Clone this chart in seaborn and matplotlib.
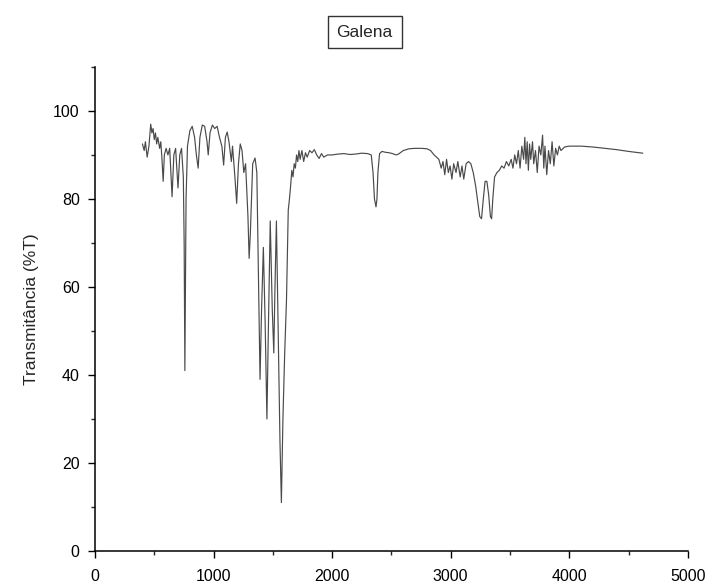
import numpy as np
import pandas as pd
import matplotlib
matplotlib.use("Agg")
import matplotlib.pyplot as plt
from matplotlib.ticker import MultipleLocator
import seaborn as sns

wavenumber = [
    400, 415, 425, 440, 455, 470, 480, 490, 500, 510, 520, 530, 545, 555, 565, 575, 585, 600,
    615, 630, 650, 665, 680, 700, 715, 730, 745, 752, 758, 762, 768, 780, 800, 820, 840, 855,
    870, 885, 905, 925, 945, 955, 970, 990, 1010, 1030, 1050, 1070, 1085, 1100, 1115, 1130,
    1150, 1160, 1180, 1195, 1210, 1225, 1240, 1255, 1270, 1290, 1300, 1310, 1330, 1350, 1365,
    1380, 1392, 1405, 1420, 1435, 1450, 1462, 1478, 1495, 1508, 1518, 1530, 1545, 1560, 1572,
    1585, 1600, 1615, 1630, 1640, 1650, 1660, 1670, 1680, 1690, 1700, 1710, 1720, 1730, 1745,
    1760, 1775, 1790, 1810, 1830, 1850, 1870, 1890, 1910, 1930, 1960, 2000, 2050, 2100, 2150,
    2200, 2250, 2300, 2330, 2345, 2357, 2370, 2378, 2386, 2400, 2420, 2450, 2480, 2510, 2540,
    2560, 2600, 2650, 2700, 2750, 2800, 2830, 2860, 2880, 2900, 2920, 2935, 2950, 2965, 2980,
    2995, 3010, 3025, 3045, 3060, 3080, 3095, 3110, 3130, 3150, 3170, 3190, 3210, 3230, 3245,
    3260, 3275, 3290, 3305, 3320, 3335, 3345, 3355, 3370, 3390, 3410, 3430, 3450, 3470, 3490,
    3510, 3525, 3540, 3555, 3570, 3585, 3600, 3615, 3625, 3635, 3645, 3655, 3665, 3675, 3690,
    3700, 3715, 3730, 3745, 3760, 3775, 3785, 3795, 3810, 3825, 3840, 3855, 3870, 3885, 3900,
    3915, 3930, 3960, 4000, 4100, 4200, 4300, 4400, 4500, 4620,
]
transmittance = [
    92.5, 91.0, 93.0, 89.5, 92.0, 97.0, 95.0, 96.0, 93.5, 95.0, 92.5, 94.0, 91.5, 93.0, 89.0,
    84.0, 90.0, 91.5, 90.0, 91.5, 80.5, 90.0, 91.5, 82.5, 90.0, 91.5, 85.0, 70.0, 41.0, 57.0,
    80.0, 92.0, 95.5, 96.5, 94.0, 90.0, 87.0, 94.0, 96.8, 96.5, 93.0, 90.0, 95.0, 96.8, 96.0,
    96.5, 94.0, 92.0, 87.7, 94.0, 95.2, 93.0, 88.5, 92.0, 85.0, 79.0, 88.0, 92.5, 91.0, 86.0,
    88.0, 76.0, 66.5, 72.0, 88.0, 89.3, 86.0, 60.0, 39.0, 55.0, 69.0, 52.0, 30.0, 50.0, 75.0,
    55.0, 45.0, 60.0, 75.0, 50.0, 25.0, 11.0, 30.0, 45.0, 57.0, 77.5, 80.0, 83.0, 86.5, 85.0,
    88.0, 87.0, 90.0, 88.5, 91.0, 89.0, 91.0, 88.5, 90.5, 89.5, 91.0, 90.5, 91.2, 90.0, 89.2,
    90.3, 89.5, 90.0, 90.0, 90.2, 90.3, 90.1, 90.2, 90.4, 90.3, 90.0, 86.0, 80.0, 78.2, 80.0,
    86.0, 90.3, 90.8, 90.6, 90.5, 90.3, 90.0, 90.2, 91.0, 91.4, 91.5, 91.5, 91.4, 91.0, 90.0,
    89.5, 89.0, 87.0, 88.5, 85.5, 89.0, 86.0, 87.5, 84.5, 88.0, 86.0, 88.5, 85.0, 87.5, 84.5,
    88.0, 88.5, 88.0, 86.0, 83.0, 79.0, 76.0, 75.5, 80.0, 84.0, 84.0, 81.0, 76.0, 75.5, 80.0,
    85.0, 86.0, 86.5, 87.5, 87.0, 88.5, 87.5, 89.0, 87.0, 90.0, 88.0, 91.0, 87.0, 92.0, 89.0,
    94.0, 88.0, 93.0, 86.5, 92.5, 89.0, 93.0, 88.0, 91.0, 86.0, 92.0, 90.0, 94.5, 87.0, 92.0,
    85.5, 91.0, 88.0, 93.0, 87.5, 91.5, 90.0, 92.0, 91.0, 91.8, 92.0, 92.0, 91.8, 91.5, 91.2,
    90.8, 90.4,
]

x_ticks = [0, 1000, 2000, 3000, 4000, 5000]
y_ticks = [0, 20, 40, 60, 80, 100]

df = pd.DataFrame({"wn": wavenumber, "T": transmittance})

sns.set_theme(style="ticks")
plt.rcParams["font.family"] = ["Liberation Sans", "DejaVu Sans"]

fig = plt.figure(figsize=(7.18, 5.87), dpi=100)
ax = fig.add_axes([0.1323, 0.0613, 0.8257, 0.8247])

sns.lineplot(data=df, x="wn", y="T", ax=ax, color="#4a4a4a", linewidth=0.85,
             estimator=None, sort=False)

ax.set_xlim(0, 5000)
ax.set_ylim(0, 110)
ax.set_xticks(x_ticks)
ax.set_yticks(y_ticks)
ax.xaxis.set_minor_locator(MultipleLocator(500))
ax.yaxis.set_minor_locator(MultipleLocator(10))
ax.tick_params(axis="both", which="major", direction="out", length=5, width=1.0,
               labelsize=11.5, colors="black")
ax.tick_params(axis="x", which="major", pad=8)
ax.tick_params(axis="y", which="major", pad=6)
ax.tick_params(axis="both", which="minor", direction="out", length=3, width=1.0)
for s in ["top", "right"]:
    ax.spines[s].set_visible(False)
for s in ["left", "bottom"]:
    ax.spines[s].set_linewidth(1.1)
    ax.spines[s].set_color("black")

ax.set_xlabel("")
ax.set_ylabel("Transmitância (%T)", fontsize=12.5, labelpad=10)

fig.text(0.508, 0.945, "Galena", ha="center", va="center", fontsize=12.5,
         bbox=dict(boxstyle="square,pad=0.5", facecolor="white", edgecolor="#333333",
                   linewidth=1.0))

fig.savefig("out.png", dpi=100, facecolor="white")
